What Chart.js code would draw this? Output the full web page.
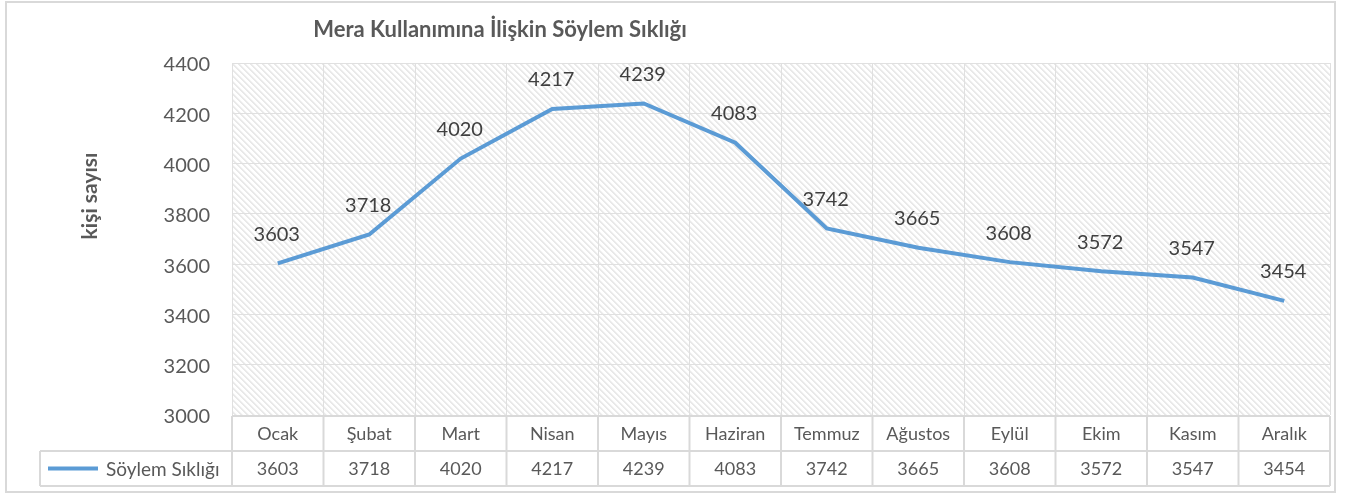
<!DOCTYPE html>
<html>
<head>
<meta charset="utf-8">
<script src="https://cdn.jsdelivr.net/npm/chart.js@4.4.1/dist/chart.umd.min.js"></script>
<style>
  html, body { margin: 0; padding: 0; background: #ffffff; }
  #wrap { width: 1346px; height: 495px; }
</style>
</head>
<body>
<div id="wrap"><canvas id="c" width="1346" height="495"></canvas></div>
<script>
const chartTitle = 'Mera Kullanımına İlişkin Söylem Sıklığı';
const yAxisTitle = 'kişi sayısı';
const seriesName = 'Söylem Sıklığı';
const categories = ['Ocak', 'Şubat', 'Mart', 'Nisan', 'Mayıs', 'Haziran', 'Temmuz', 'Ağustos', 'Eylül', 'Ekim', 'Kasım', 'Aralık'];
const values = [3603, 3718, 4020, 4217, 4239, 4083, 3742, 3665, 3608, 3572, 3547, 3454];
const yMin = 3000;
const yMax = 4400;
const yStep = 200;

const FONT = 'Lato, "Open Sans", sans-serif';
const LINE_COLOR = '#5b9bd5';
const TEXT_GREY = '#595959';
const DARK_TEXT = '#404040';
const BORDER = '#d9d9d9';

function makeHatch() {
  const n = 6;
  const c = document.createElement('canvas');
  c.width = n; c.height = n;
  const g = c.getContext('2d');
  const img = g.createImageData(n, n);
  for (let y = 0; y < n; y++) {
    for (let x = 0; x < n; x++) {
      const d = (((x - y) % n) + n) % n;
      const v = d < 2 ? 233 : (d === 2 ? 245 : 255);
      const i = (y * n + x) * 4;
      img.data[i] = v; img.data[i + 1] = v; img.data[i + 2] = v; img.data[i + 3] = 255;
    }
  }
  g.putImageData(img, 0, 0);
  return c;
}

const hatchPlugin = {
  id: 'hatch',
  beforeDraw(chart) {
    const { ctx, chartArea: a } = chart;
    ctx.save();
    ctx.fillStyle = '#ffffff';
    ctx.fillRect(0, 0, chart.width, chart.height);
    ctx.fillStyle = ctx.createPattern(makeHatch(), 'repeat');
    ctx.fillRect(a.left, a.top, a.right - a.left, a.bottom - a.top);
    ctx.restore();
  }
};

const labelsPlugin = {
  id: 'pointLabels',
  afterDatasetsDraw(chart) {
    const { ctx } = chart;
    const meta = chart.getDatasetMeta(0);
    ctx.save();
    ctx.font = '20px ' + FONT;
    ctx.fillStyle = DARK_TEXT;
    ctx.textAlign = 'center';
    ctx.textBaseline = 'middle';
    meta.data.forEach((pt, i) => {
      ctx.fillText(String(values[i]), pt.x - 1, pt.y - 29);
    });
    ctx.restore();
  }
};

const tablePlugin = {
  id: 'dataTable',
  afterDraw(chart) {
    const { ctx, chartArea: a } = chart;
    const xs = chart.scales.x;
    const colW = xs.getPixelForValue(1) - xs.getPixelForValue(0);
    const top = a.bottom + 1;
    const mid = a.bottom + 36;
    const bot = a.bottom + 71;
    const legendLeft = 40;
    ctx.save();
    ctx.strokeStyle = BORDER;
    ctx.lineWidth = 2;
    ctx.beginPath();
    ctx.moveTo(a.left, top); ctx.lineTo(a.right, top);
    ctx.moveTo(legendLeft, mid); ctx.lineTo(a.right, mid);
    ctx.moveTo(legendLeft, bot); ctx.lineTo(a.right, bot);
    ctx.moveTo(legendLeft, mid); ctx.lineTo(legendLeft, bot);
    for (let i = 0; i <= categories.length; i++) {
      const x = i < categories.length ? xs.getPixelForValue(i) - colW / 2 : xs.getPixelForValue(categories.length - 1) + colW / 2;
      ctx.moveTo(x, top); ctx.lineTo(x, bot);
    }
    ctx.stroke();

    ctx.font = '18px ' + FONT;
    ctx.fillStyle = TEXT_GREY;
    ctx.textAlign = 'center';
    ctx.textBaseline = 'middle';
    categories.forEach((c, i) => {
      const x = xs.getPixelForValue(i);
      ctx.fillText(c, x, (top + mid) / 2 + 1);
      ctx.fillText(String(values[i]), x, (mid + bot) / 2 + 1);
    });

    // legend key
    ctx.strokeStyle = LINE_COLOR;
    ctx.lineWidth = 4;
    ctx.beginPath();
    ctx.moveTo(48, (mid + bot) / 2);
    ctx.lineTo(98, (mid + bot) / 2);
    ctx.stroke();
    ctx.textAlign = 'left';
    ctx.fillStyle = TEXT_GREY;
    ctx.font = '19px ' + FONT;
    ctx.fillText(seriesName, 106, (mid + bot) / 2 + 1);

    // title
    ctx.font = 'bold 22px ' + FONT;
    ctx.textAlign = 'center';
    ctx.fillStyle = TEXT_GREY;
    ctx.fillText(chartTitle, 500, 30);

    // y axis title
    ctx.save();
    ctx.translate(90, 196);
    ctx.rotate(-Math.PI / 2);
    ctx.font = 'bold 21px ' + FONT;
    ctx.fillText(yAxisTitle, 0, 0);
    ctx.restore();

    // outer border
    ctx.strokeStyle = BORDER;
    ctx.lineWidth = 2;
    ctx.strokeRect(6, 2, 1329, 490);
    ctx.restore();
  }
};

new Chart(document.getElementById('c'), {
  type: 'line',
  data: {
    labels: categories,
    datasets: [{
      label: seriesName,
      data: values,
      borderColor: LINE_COLOR,
      backgroundColor: LINE_COLOR,
      borderWidth: 4,
      pointRadius: 0,
      tension: 0,
      fill: false
    }]
  },
  options: {
    responsive: false,
    animation: false,
    devicePixelRatio: 1,
    layout: { padding: { left: 0, top: 63, right: 16, bottom: 80 } },
    plugins: {
      legend: { display: false },
      title: { display: false },
      tooltip: { enabled: false }
    },
    scales: {
      x: {
        type: 'category',
        offset: true,
        grid: { offset: true, color: '#e0e0e0', lineWidth: 1, drawTicks: false },
        border: { display: false },
        ticks: { display: false },
        afterFit(s) { s.height = 0; }
      },
      y: {
        min: yMin,
        max: yMax,
        grid: { color: '#e0e0e0', lineWidth: 1, drawTicks: false },
        border: { display: false },
        ticks: {
          stepSize: yStep,
          padding: 22,
          labelOffset: 2,
          color: TEXT_GREY,
          font: { family: FONT, size: 20 },
          callback: (v) => String(v)
        },
        afterFit(s) { s.width = 232; }
      }
    }
  },
  plugins: [hatchPlugin, labelsPlugin, tablePlugin]
});
</script>
</body>
</html>
